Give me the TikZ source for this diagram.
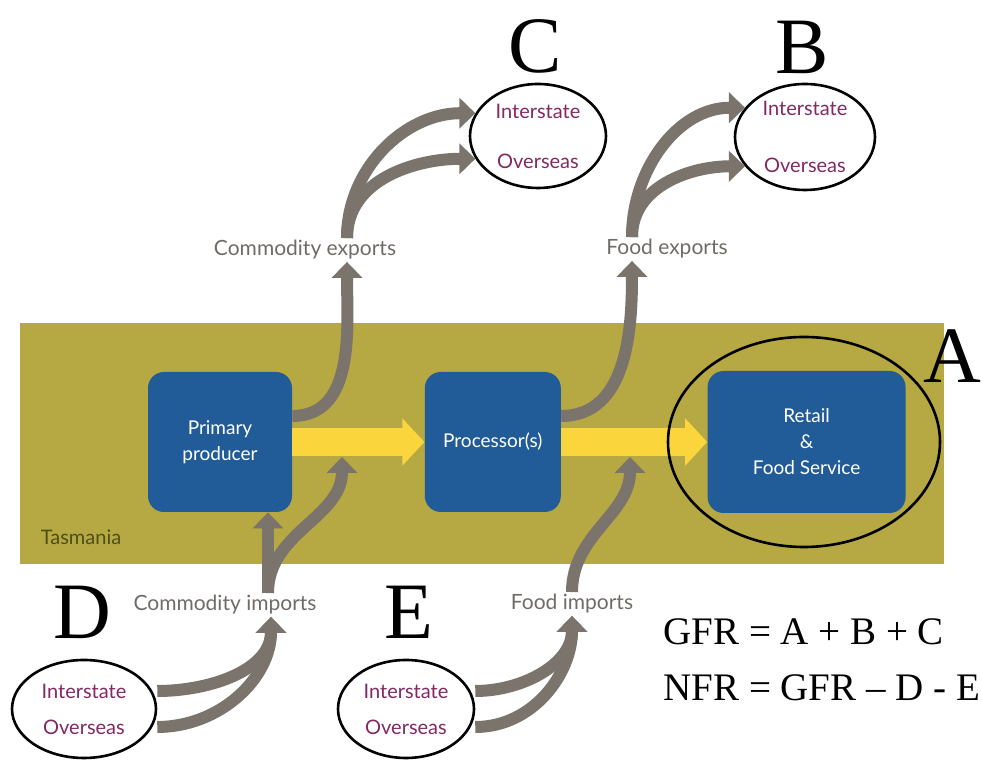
\documentclass[tikz,border=0pt]{standalone}
\usepackage{fontspec}
\setmainfont{Lato}
\newfontfamily\timesfont{Liberation Serif}
\usetikzlibrary{arrows.meta,positioning,shapes.geometric}
\definecolor{tasolive}{RGB}{182,168,66}
\definecolor{tasblue}{RGB}{33,92,152}
\definecolor{flowgrey}{RGB}{122,116,108}
\definecolor{flowyellow}{RGB}{250,214,60}
\definecolor{labelgrey}{RGB}{112,107,102}
\definecolor{regionpurple}{RGB}{130,40,98}
\definecolor{tasdark}{RGB}{78,78,28}

\begin{document}
\begin{tikzpicture}[x=0.5pt,y=0.5pt,node distance=66pt]
  \tikzset{stage/.style={fill=tasblue,rounded corners=8pt,text=white,align=center,
      font=\fontsize{9.5}{13}\selectfont,minimum height=70pt},
    region/.style={draw,ellipse,line width=1.3pt,text=regionpurple,align=center,
      font=\fontsize{10}{12}\selectfont,inner sep=0pt},
    flowlabel/.style={text=labelgrey,font=\fontsize{10.5}{12}\selectfont,inner sep=1pt},
    bigletter/.style={font=\timesfont\fontsize{40}{40}\selectfont,inner sep=0pt},
    flow/.style={draw=flowgrey,line width=6pt,-{Triangle[length=8pt,width=15pt]}},
    mainflow/.style={draw=flowyellow,line width=14pt,-{Triangle[length=11pt,width=23pt]}},
    formula/.style={font=\timesfont\fontsize{19.5}{22}\selectfont,anchor=west,inner sep=0pt}}
  \useasboundingbox (0,0) rectangle (982,760);
  % Tasmania band
  \fill[tasolive] (20,196) rectangle (944,437);
  \node[text=tasdark,font=\fontsize{10}{12}\selectfont] (tas) at (81,223) {Tasmania};
  % supply chain
  \node[stage,minimum width=72pt] (prim) at (220,318) {Primary\\producer};
  \node[stage,minimum width=68pt] (proc) [right = 66pt of prim] {Processor(s)};
  \node[stage,minimum width=99pt,minimum height=71pt] (retail) [right = 73pt of proc] {Retail\\\&\\Food Service};
  \draw[mainflow] (prim) -- (proc);
  \draw[mainflow] (proc) -- (retail);
  % regions
  \node[region,minimum width=68pt,minimum height=52pt] (cc) at (538,624) {Interstate\\[13pt]Overseas};
  \node[region,minimum width=70pt,minimum height=53pt] (bb) at (805,623) {Interstate\\[16.5pt]Overseas};
  \node[region,minimum width=72pt,minimum height=49pt] (dd) at (84,51) {Interstate\\[6pt]Overseas};
  \node[region,minimum width=68pt,minimum height=49pt] (ee) at (406,51) {Interstate\\[6pt]Overseas};
  \node[draw,ellipse,line width=1.3pt,minimum width=136pt,minimum height=105pt] (aa) at (804,318) {};
  % flow labels
  \node[flowlabel] (cexp) at (305,510) {Commodity exports};
  \node[flowlabel] (fexp) at (667,511) {Food exports};
  \node[flowlabel] (cimp) at (225,155) {Commodity imports};
  \node[flowlabel] (fimp) at (572,156) {Food imports};
  \coordinate (cexpIn) at ([xshift=21pt]cexp.south);
  \coordinate (cexpOut) at ([xshift=21pt]cexp.north);
  \coordinate (fexpIn) at ([xshift=-17.5pt]fexp.south);
  \coordinate (fexpOut) at ([xshift=-17.5pt]fexp.north);
  \coordinate (cimpIn) at ([xshift=23pt]cimp.south);
  \coordinate (cimpOut) at ([xshift=21.5pt]cimp.north);
  \coordinate (mergeA) at (342,303);
  \coordinate (mergeB) at (630,303);
  % exports
  \draw[flow] ([yshift=13pt]prim.east) to[out=0,in=-90] (cexpIn);
  \draw[flow] ([yshift=13pt]proc.east) to[out=0,in=-90] (fexpIn);
  \path (cexpOut) edge[flow,out=90,in=180] (cc.160)
                  edge[flow,out=90,in=180] (cc.200);
  \path (fexpOut) edge[flow,out=90,in=180] (bb.154)
                  edge[flow,out=90,in=180] (bb.206);
  % imports
  \path ([yshift=9pt]dd.east) edge[flow,out=0,in=-90] (cimpIn)
        ([yshift=-9pt]dd.east) edge[flow,out=0,in=-90] (cimpIn);
  \path ([yshift=9pt]ee.east) edge[flow,out=0,in=-90] (fimp.south)
        ([yshift=-9pt]ee.east) edge[flow,out=0,in=-90] (fimp.south);
  \draw[flow] (cimpOut) -- (cimpOut |- prim.south);
  \draw[flow] (cimpOut) to[out=90,in=-90] (mergeA);
  \draw[flow] (fimp.north) to[out=90,in=-90] (mergeB);
  % letters
  \node[bigletter] (ltrA) at (952,404) {A};
  \node[bigletter] (ltrB) at (802,713) {B};
  \node[bigletter] (ltrC) at (535,714) {C};
  \node[bigletter] (ltrD) at (82,148) {D};
  \node[bigletter] (ltrE) at (409,148) {E};
  % ratios
  \node[formula] (gfr) at (663,128) {GFR = A + B + C};
  \node[formula] (nfr) at (663,72) {NFR = GFR – D - E};
\end{tikzpicture}
\end{document}
